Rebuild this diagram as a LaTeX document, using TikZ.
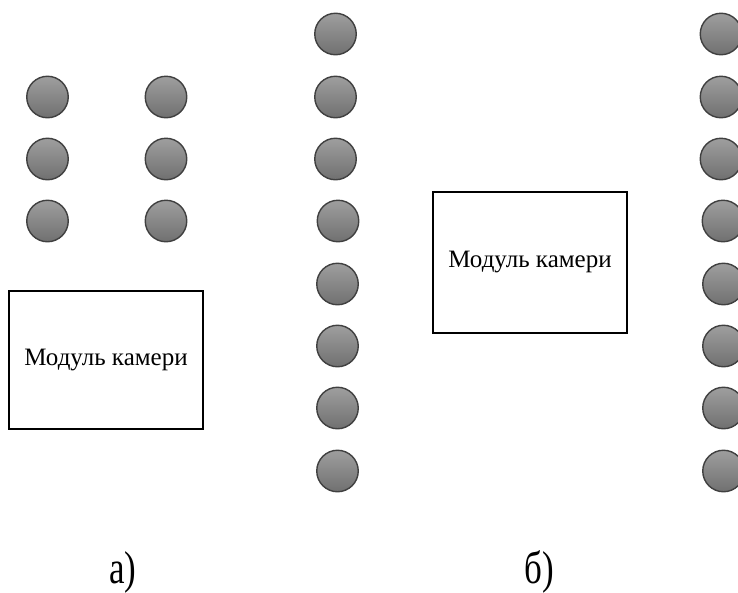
\documentclass[tikz,border=0pt]{standalone}
\usepackage{fontspec}
\setmainfont{Liberation Serif}
\begin{document}
\begin{tikzpicture}[x=1pt,y=-1pt,
  led/.style={circle, minimum size=41.5pt, inner sep=0pt, draw=black!75, line width=1.4pt,
              top color=black!38, bottom color=black!56},
  cambox/.style={draw=black, line width=1.8pt, rectangle, inner sep=0pt,
                 font=\fontsize{25}{30}\selectfont},
  caption/.style={inner sep=0pt, anchor=base, font=\fontsize{46}{50}\selectfont, xscale=0.76}]
\useasboundingbox (0,0) rectangle (738,592);

% a) two short columns of LEDs above the camera module, a long column beside it
\foreach \r/\yy in {1/97, 2/159, 3/221} {
  \node[led] (aL\r) at (47.5,\yy) {};
  \node[led] (aR\r) at (166,\yy) {};
}
\foreach \r/\xx/\yy in {1/335.5/34, 2/335.5/97, 3/335.5/159, 4/338/221,
                        5/337.5/284, 6/337.5/346, 7/337.5/408, 8/337.5/471}
  \node[led] (aC\r) at (\xx,\yy) {};
\node[cambox, minimum width=194pt, minimum height=138pt] (camA) at (106,360) {Модуль камери};

% б) camera module with a single long column of LEDs
\node[cambox, minimum width=194pt, minimum height=141pt] (camB) at (530,262.5) {Модуль камери};
\foreach \r/\xx/\yy in {1/721/34, 2/721/97, 3/721/159, 4/723/221,
                        5/723.5/284, 6/723.5/346, 7/723.5/408, 8/723.5/471}
  \node[led] (bC\r) at (\xx,\yy) {};

% captions
\node[caption] (capA) at (123,583) {а)};
\node[caption] (capB) at (539,583) {б)};
\end{tikzpicture}
\end{document}
